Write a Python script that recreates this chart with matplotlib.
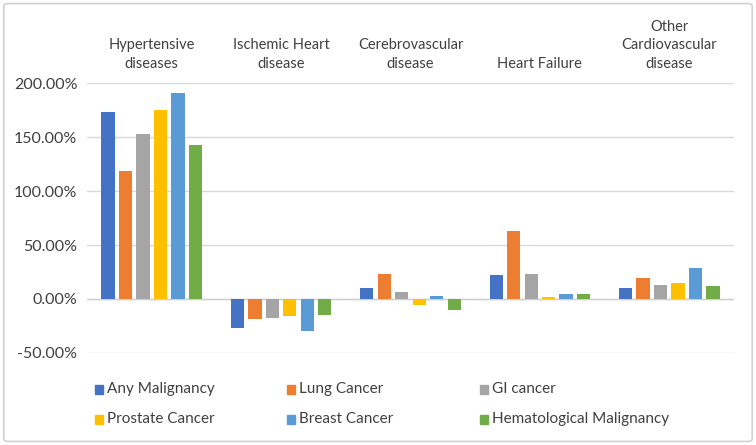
import numpy as np
import matplotlib
matplotlib.use("Agg")
import matplotlib.pyplot as plt
from matplotlib.patches import Rectangle, FancyBboxPatch
from matplotlib.ticker import FuncFormatter

plt.rcParams['font.family'] = ['Lato', 'DejaVu Sans']

categories = ["Hypertensive\ndiseases", "Ischemic Heart\ndisease", "Cerebrovascular\ndisease",
              "Heart Failure", "Other\nCardiovascular\ndisease"]
series = ["Any Malignancy", "Lung Cancer", "GI cancer",
          "Prostate Cancer", "Breast Cancer", "Hematological Malignancy"]
colors = ["#4472C4", "#ED7D31", "#A5A5A5", "#FFC000", "#5B9BD5", "#70AD47"]

# percent change, one list per series (values across categories)
any_malig = [173.5, -27.0, 10.0, 22.0, 10.0]
lung = [119.0, -19.0, 23.5, 63.0, 19.5]
gi = [152.5, -18.0, 6.0, 23.5, 12.7]
prostate = [175.5, -16.0, -5.5, 2.0, 15.0]
breast = [190.5, -30.0, 3.0, 4.3, 28.5]
hema = [142.5, -15.0, -10.0, 4.3, 12.0]
values = [any_malig, lung, gi, prostate, breast, hema]

W, H = 756, 445
fig = plt.figure(figsize=(W / 100, H / 100), dpi=100)
ax = fig.add_axes([0.115, 0.207, 0.856, 0.606])

x = np.arange(len(categories))
pitch = 0.135
width = 0.103
for i, (vals, c) in enumerate(zip(values, colors)):
    ax.bar(x + (i - 2.5) * pitch, vals, width, color=c, zorder=3)

ax.set_xlim(-0.5, len(categories) - 0.5)
ax.set_ylim(-50, 200)
ax.set_yticks(np.arange(-50, 201, 50))
ax.yaxis.set_major_formatter(FuncFormatter(lambda v, p: "%.2f%%" % v))
ax.grid(axis='y', color='#D9D9D9', linewidth=1, zorder=0)
ax.axhline(0, color='#D0D0D0', linewidth=1, zorder=2)
for s in ax.spines.values():
    s.set_visible(False)
ax.tick_params(axis='y', length=0, pad=7, labelsize=11.5, labelcolor='#404040')

ax.xaxis.tick_top()
ax.set_xticks(x)
ax.set_xticklabels(categories, linespacing=1.4)
ax.tick_params(axis='x', length=0, pad=9, labelsize=10.5, labelcolor='#404040')

# legend laid out in fixed columns, two rows
col_x = [95, 287, 480]
row_y = [389, 419]
for k, (s, c) in enumerate(zip(series, colors)):
    px, py = col_x[k % 3], row_y[k // 3]
    fig.patches.append(Rectangle((px / W, 1 - (py + 4.5) / H), 8 / W, 9 / H,
                                 transform=fig.transFigure, color=c))
    fig.text((px + 12) / W, 1 - py / H, s, ha='left', va='center',
             fontsize=11, color='#404040')

border = FancyBboxPatch((0.005, 0.008), 0.99, 0.984, boxstyle="round,pad=0,rounding_size=0.006",
                        transform=fig.transFigure, fill=False, edgecolor='#D0D0D0', linewidth=1.2)
fig.patches.append(border)

fig.savefig("out.png", dpi=100)
